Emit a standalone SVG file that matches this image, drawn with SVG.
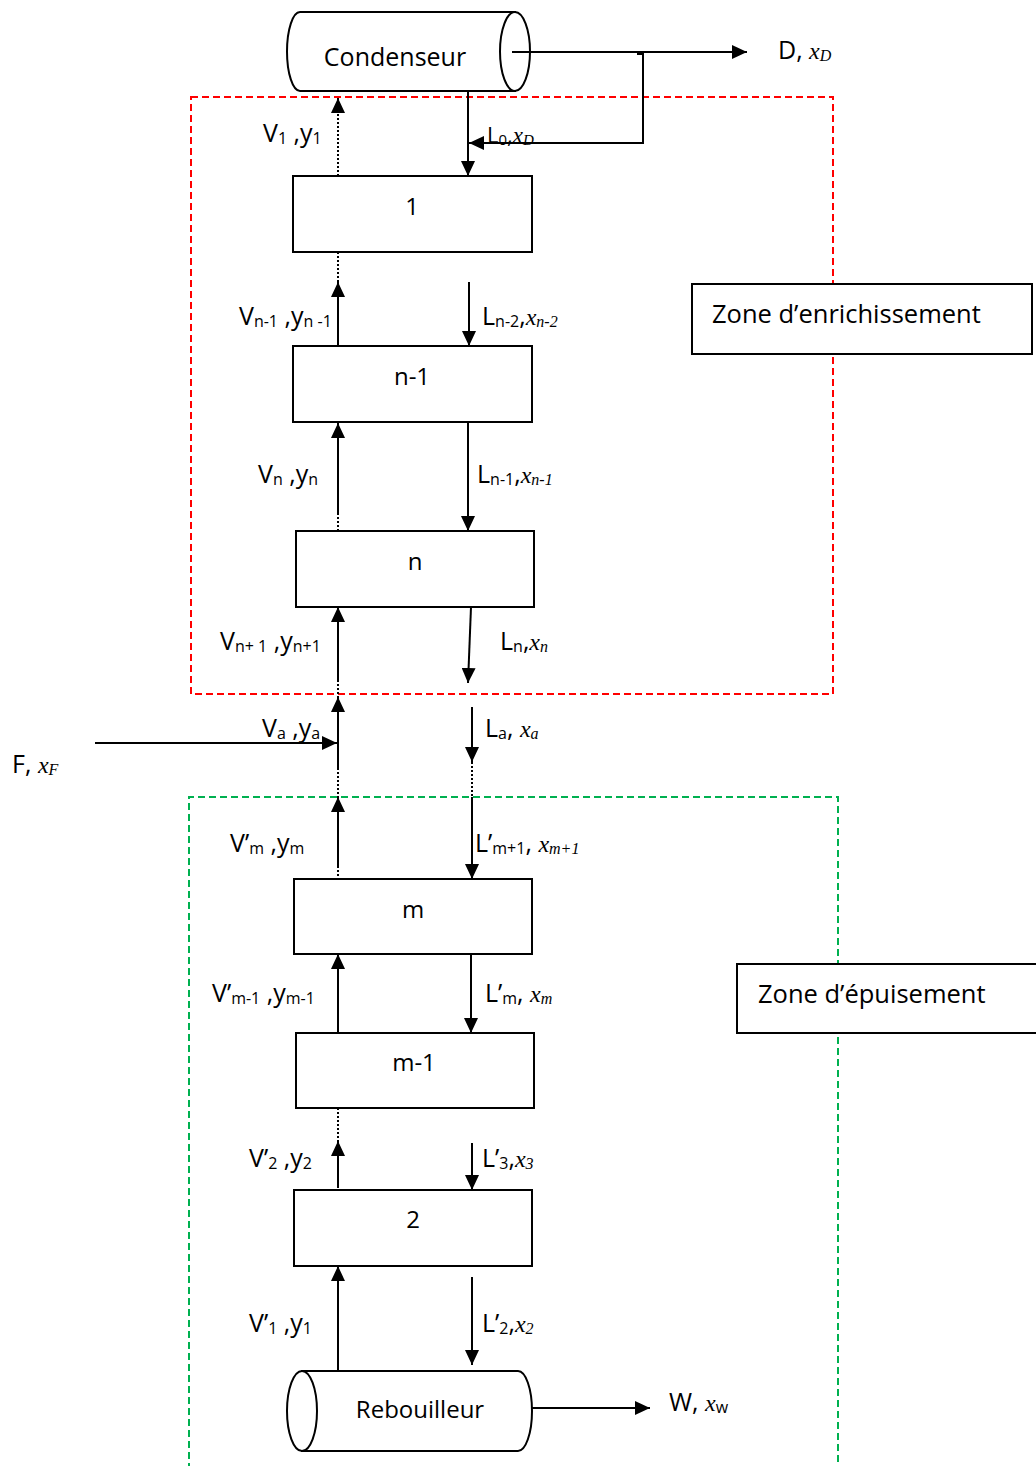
<svg xmlns="http://www.w3.org/2000/svg" width="1036" height="1466" viewBox="0 0 1036 1466">
  <style>
    .box { fill: #fff; stroke: #000; stroke-width: 2; }
    .node-text { font-family: "Open Sans", "Liberation Sans", sans-serif; font-size: 24px; fill: #000; text-anchor: middle; }
    .lbl { font-family: "Open Sans", "Liberation Sans", sans-serif; font-size: 25px; fill: #000; }
    .zone-lbl { font-family: "Open Sans", "Liberation Sans", sans-serif; font-size: 25.5px; fill: #000; }
    .sub { font-size: 16px; }
    .m { font-family: "Liberation Serif", "Times New Roman", serif; font-style: italic; font-size: 24px; }
    .ms { font-family: "Liberation Serif", "Times New Roman", serif; font-style: italic; font-size: 16px; }
    .flow { fill: none; stroke: #000; stroke-width: 2; }
    .dot { fill: none; stroke: #000; stroke-width: 2; stroke-dasharray: 2 2; }
    .zone-red { fill: none; stroke: #ff0000; stroke-width: 2; stroke-dasharray: 7 4; }
    .zone-green { fill: none; stroke: #00b050; stroke-width: 2; stroke-dasharray: 7 4; }
  </style>
  <defs>
    <marker id="ah" viewBox="0 0 15 14" refX="15" refY="7" markerWidth="15" markerHeight="14" markerUnits="userSpaceOnUse" orient="auto">
      <path d="M0,0 L15,7 L0,14 Z" fill="#000"/>
    </marker>
  </defs>

  <rect width="1036" height="1466" fill="#fff"/>

  <!-- section outlines -->
  <g id="zones">
    <rect class="zone-red" x="191" y="97" width="642" height="597"/>
    <path class="zone-green" d="M189,1470 V797 H838 V1470"/>
  </g>

  <g id="zone-enrichissement">
    <rect class="box" x="692" y="284" width="340" height="70"/>
    <text class="zone-lbl" x="712" y="323">Zone d’enrichissement</text>
  </g>
  <g id="zone-epuisement">
    <rect class="box" x="737" y="964" width="310" height="69"/>
    <text class="zone-lbl" x="758" y="1003">Zone d’épuisement</text>
  </g>

  <!-- condenser -->
  <g id="condenseur">
    <path class="box" d="M515,12 H300 A13,39.5 0 0 0 300,91 H515 Z"/>
    <ellipse class="box" cx="515" cy="51.5" rx="15" ry="39.5"/>
    <text class="node-text" x="395" y="66" style="font-size:25px">Condenseur</text>
  </g>

  <!-- trays -->
  <g id="plateau-1">
    <rect class="box" x="293" y="176" width="239" height="76"/>
    <text class="node-text" x="412" y="215">1</text>
  </g>
  <g id="plateau-n-1">
    <rect class="box" x="293" y="346" width="239" height="76"/>
    <text class="node-text" x="412" y="385">n-1</text>
  </g>
  <g id="plateau-n">
    <rect class="box" x="296" y="531" width="238" height="76"/>
    <text class="node-text" x="415" y="570">n</text>
  </g>
  <g id="plateau-m">
    <rect class="box" x="294" y="879" width="238" height="75"/>
    <text class="node-text" x="413" y="918">m</text>
  </g>
  <g id="plateau-m-1">
    <rect class="box" x="296" y="1033" width="238" height="75"/>
    <text class="node-text" x="414" y="1071">m-1</text>
  </g>
  <g id="plateau-2">
    <rect class="box" x="294" y="1190" width="238" height="76"/>
    <text class="node-text" x="413" y="1228">2</text>
  </g>

  <!-- reboiler -->
  <g id="rebouilleur">
    <path class="box" d="M302,1371 H518 A14,40 0 0 1 518,1451 H302 Z"/>
    <ellipse class="box" cx="302" cy="1411" rx="15" ry="40"/>
    <text class="node-text" x="420" y="1418">Rebouilleur</text>
  </g>

  <!-- vapour / liquid streams -->
  <g id="connectors">
    <!-- distillate and reflux -->
    <line class="flow" x1="512" y1="52" x2="747" y2="52" marker-end="url(#ah)"/>
    <path class="flow" d="M637,54 H643 V143 H469" stroke-width="1.5" marker-end="url(#ah)"/>
    <line class="flow" x1="468" y1="92" x2="468" y2="176" marker-end="url(#ah)"/>

    <!-- vapour rising, enrichment section -->
    <line class="dot" x1="338" y1="176" x2="338" y2="98" marker-end="url(#ah)"/>
    <line class="dot" x1="338" y1="252" x2="338" y2="286"/>
    <line class="flow" x1="338" y1="346" x2="338" y2="282" marker-end="url(#ah)"/>
    <line class="dot" x1="338" y1="531" x2="338" y2="512"/>
    <line class="flow" x1="338" y1="515" x2="338" y2="423" marker-end="url(#ah)"/>
    <line class="dot" x1="338" y1="680" x2="338" y2="712"/>
    <line class="flow" x1="338" y1="682" x2="338" y2="607" marker-end="url(#ah)"/>

    <!-- liquid falling, enrichment section -->
    <line class="flow" x1="469" y1="282" x2="469" y2="346" marker-end="url(#ah)"/>
    <line class="flow" x1="468" y1="422" x2="468" y2="531" marker-end="url(#ah)"/>
    <line class="flow" x1="471" y1="607" x2="468" y2="683" marker-end="url(#ah)"/>

    <!-- feed plate -->
    <line class="flow" x1="95" y1="743" x2="337" y2="743" marker-end="url(#ah)"/>
    <line class="flow" x1="338" y1="770" x2="338" y2="697" marker-end="url(#ah)"/>
    <line class="dot" x1="338" y1="768" x2="338" y2="812"/>
    <line class="flow" x1="472" y1="707" x2="472" y2="762" marker-end="url(#ah)"/>
    <line class="dot" x1="472" y1="762" x2="472" y2="797"/>

    <!-- stripping section -->
    <line class="dot" x1="338" y1="866" x2="338" y2="879"/>
    <line class="flow" x1="338" y1="868" x2="338" y2="797" marker-end="url(#ah)"/>
    <line class="flow" x1="472" y1="797" x2="472" y2="879" marker-end="url(#ah)"/>
    <line class="flow" x1="338" y1="1033" x2="338" y2="954" marker-end="url(#ah)"/>
    <line class="flow" x1="471" y1="954" x2="471" y2="1033" marker-end="url(#ah)"/>
    <line class="dot" x1="338" y1="1108" x2="338" y2="1145"/>
    <line class="flow" x1="338" y1="1188" x2="338" y2="1141" marker-end="url(#ah)"/>
    <line class="flow" x1="472" y1="1143" x2="472" y2="1190" marker-end="url(#ah)"/>
    <line class="flow" x1="338" y1="1371" x2="338" y2="1266" marker-end="url(#ah)"/>
    <line class="flow" x1="472" y1="1277" x2="472" y2="1365" marker-end="url(#ah)"/>

    <!-- residue -->
    <line class="flow" x1="532" y1="1408" x2="650" y2="1408" marker-end="url(#ah)"/>
  </g>

  <!-- stream labels -->
  <g id="labels">
    <text class="lbl" x="778" y="59">D, <tspan class="m">x</tspan><tspan class="ms" dy="2">D</tspan></text>
    <text class="lbl" x="487" y="143" style="font-size:22px">L<tspan class="sub" style="font-size:15px" dy="2">0</tspan><tspan dy="-2">,</tspan><tspan class="m" style="font-size:23px">x</tspan><tspan class="ms" style="font-size:15px" dy="2">D</tspan></text>
    <text class="lbl" x="263" y="142">V<tspan class="sub" dy="2">1</tspan><tspan dy="-2"> ,y</tspan><tspan class="sub" dy="2">1</tspan></text>

    <text class="lbl" x="239" y="325">V<tspan class="sub" dy="2">n-1</tspan><tspan dy="-2"> ,y</tspan><tspan class="sub" dy="2">n -1</tspan></text>
    <text class="lbl" x="482" y="325">L<tspan class="sub" dy="2">n-2</tspan><tspan dy="-2">,</tspan><tspan class="m">x</tspan><tspan class="ms" dy="2">n-2</tspan></text>

    <text class="lbl" x="258" y="483">V<tspan class="sub" dy="2">n</tspan><tspan dy="-2"> ,y</tspan><tspan class="sub" dy="2">n</tspan></text>
    <text class="lbl" x="477" y="483">L<tspan class="sub" dy="2">n-1</tspan><tspan dy="-2">,</tspan><tspan class="m">x</tspan><tspan class="ms" dy="2">n-1</tspan></text>

    <text class="lbl" x="220" y="650">V<tspan class="sub" dy="2">n+ 1</tspan><tspan dy="-2"> ,y</tspan><tspan class="sub" dy="2">n+1</tspan></text>
    <text class="lbl" x="500" y="650">L<tspan class="sub" dy="2">n</tspan><tspan dy="-2">,</tspan><tspan class="m">x</tspan><tspan class="ms" dy="2">n</tspan></text>

    <text class="lbl" x="262" y="737">V<tspan class="sub" dy="2">a</tspan><tspan dy="-2"> ,y</tspan><tspan class="sub" dy="2">a</tspan></text>
    <text class="lbl" x="485" y="737">L<tspan class="sub" dy="2">a</tspan><tspan dy="-2">, </tspan><tspan class="m">x</tspan><tspan class="ms" dy="2">a</tspan></text>
    <text class="lbl" x="12" y="773">F, <tspan class="m">x</tspan><tspan class="ms" dy="2">F</tspan></text>

    <text class="lbl" x="230" y="852">V’<tspan class="sub" dy="2">m</tspan><tspan dy="-2"> ,y</tspan><tspan class="sub" dy="2">m</tspan></text>
    <text class="lbl" x="475" y="852">L’<tspan class="sub" dy="2">m+1</tspan><tspan dy="-2">, </tspan><tspan class="m">x</tspan><tspan class="ms" dy="2">m+1</tspan></text>

    <text class="lbl" x="212" y="1002">V’<tspan class="sub" dy="2">m-1</tspan><tspan dy="-2"> ,y</tspan><tspan class="sub" dy="2">m-1</tspan></text>
    <text class="lbl" x="485" y="1002">L’<tspan class="sub" dy="2">m</tspan><tspan dy="-2">, </tspan><tspan class="m">x</tspan><tspan class="ms" dy="2">m</tspan></text>

    <text class="lbl" x="249" y="1167">V’<tspan class="sub" dy="2">2</tspan><tspan dy="-2"> ,y</tspan><tspan class="sub" dy="2">2</tspan></text>
    <text class="lbl" x="482" y="1167">L’<tspan class="sub" dy="2">3</tspan><tspan dy="-2">,</tspan><tspan class="m">x</tspan><tspan class="ms" dy="2">3</tspan></text>

    <text class="lbl" x="249" y="1332">V’<tspan class="sub" dy="2">1</tspan><tspan dy="-2"> ,y</tspan><tspan class="sub" dy="2">1</tspan></text>
    <text class="lbl" x="482" y="1332">L’<tspan class="sub" dy="2">2</tspan><tspan dy="-2">,</tspan><tspan class="m">x</tspan><tspan class="ms" dy="2">2</tspan></text>

    <text class="lbl" x="669" y="1411">W, <tspan class="m">x</tspan><tspan class="sub" dy="2">w</tspan></text>
  </g>
</svg>
